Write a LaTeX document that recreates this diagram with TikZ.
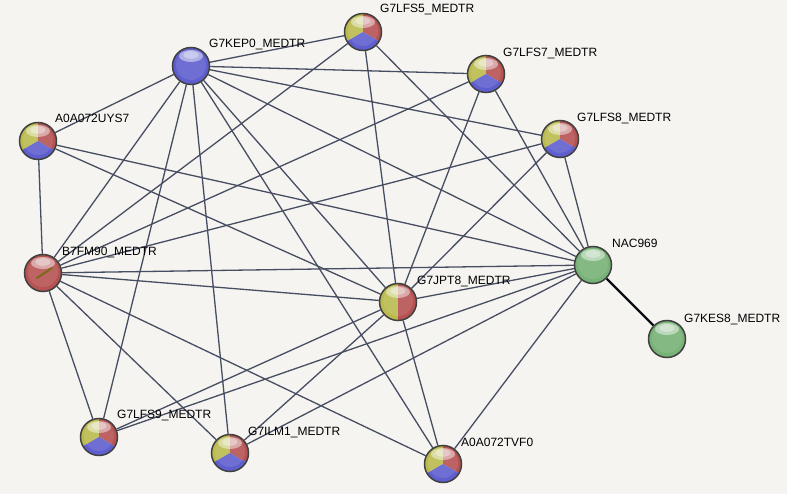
\documentclass[tikz,border=0pt]{standalone}
\usepackage{fontspec}
\setmainfont{Liberation Sans}
\pgfdeclarelayer{background}
\pgfsetlayers{background,main}
\definecolor{bgcol}{HTML}{F5F4F0}
\definecolor{edgecol}{HTML}{474D62}
\definecolor{ylw}{HTML}{D4D45A}
\definecolor{rd}{HTML}{D05E5E}
\definecolor{blu}{HTML}{6C6CEC}
\definecolor{grn}{HTML}{88CB88}
\definecolor{olv}{HTML}{7A6A1A}
\newcommand\ballgloss{%
  \fill[black,opacity=0.12] (0pt,0pt) circle[radius=19pt];
  \fill[white,opacity=0.10] (0pt,1pt) circle[radius=15pt];
  \fill[white,opacity=0.45] (0pt,10pt) ellipse[x radius=12pt, y radius=6pt];
  \fill[white,opacity=0.35] (0pt,11pt) ellipse[x radius=7.5pt, y radius=3.8pt];
}
\newcommand\trifill{%
  \begin{scope}[shift={(path picture bounding box.center)}]
    \fill[ylw] (0pt,0pt) -- (90:40pt) -- (150:40pt) -- (210:40pt) -- cycle;
    \fill[rd] (0pt,0pt) -- (90:40pt) -- (30:40pt) -- (-30:40pt) -- cycle;
    \fill[blu] (0pt,0pt) -- (210:40pt) -- (270:40pt) -- (330:40pt) -- cycle;
    \ballgloss
  \end{scope}}
\newcommand\halffill{%
  \begin{scope}[shift={(path picture bounding box.center)}]
    \fill[ylw] (0pt,-40pt) rectangle (-40pt,40pt);
    \fill[rd] (0pt,-40pt) rectangle (40pt,40pt);
    \ballgloss
  \end{scope}}
\newcommand\onefill[1]{%
  \begin{scope}[shift={(path picture bounding box.center)}]
    \fill[#1] (-40pt,-40pt) rectangle (40pt,40pt);
    \ballgloss
  \end{scope}}
\tikzset{
  ball/.style={circle, minimum size=37pt, inner sep=0pt, draw=black!75, line width=1.5pt},
  triball/.style={ball, path picture={\trifill}},
  halfball/.style={ball, path picture={\halffill}},
  blueball/.style={ball, path picture={\onefill{blu}}},
  redball/.style={ball, path picture={\onefill{rd}}},
  greenball/.style={ball, path picture={\onefill{grn}}},
  lbl/.style={anchor=base west, inner sep=0pt, font=\fontsize{12}{14}\selectfont, text=black},
  edge/.style={draw=edgecol, line width=1.3pt},
  strong/.style={draw=black!80!edgecol, line width=2.4pt},
}
\begin{document}
\begin{tikzpicture}[x=1pt,y=-1pt]
\begin{pgfonlayer}{background}
\fill[bgcol] (0,0) rectangle (787,494);
\end{pgfonlayer}
\useasboundingbox (0,0) rectangle (787,494);
% nodes
\node[blueball] (KEP0) at (191,66) {};
\node[triball] (LFS5) at (363,32) {};
\node[triball] (LFS7) at (486,74) {};
\node[triball] (LFS8) at (560,139) {};
\node[triball] (UYS7) at (38,141) {};
\node[redball] (B7FM) at (43,273) {};
\node[halfball] (JPT8) at (398,302) {};
\node[greenball] (NAC) at (593,265) {};
\node[greenball] (KES8) at (667,339) {};
\node[triball] (LFS9) at (99,437) {};
\node[triball] (ILM1) at (230,453) {};
\node[triball] (TVF0) at (443,464) {};
\draw[olv, line width=2pt, line cap=round] (B7FM) ++(-6,5) -- ++(15,-10);
% labels
\node[lbl] (lKEP0) at (209,47.3) {G7KEP0\_MEDTR};
\node[lbl] (lLFS5) at (380,12.3) {G7LFS5\_MEDTR};
\node[lbl] (lLFS7) at (503,56.3) {G7LFS7\_MEDTR};
\node[lbl] (lLFS8) at (577,121.3) {G7LFS8\_MEDTR};
\node[lbl] (lUYS7) at (55,122.3) {A0A072UYS7};
\node[lbl] (lB7FM) at (62,255.3) {B7FM90\_MEDTR};
\node[lbl] (lJPT8) at (417,284.3) {G7JPT8\_MEDTR};
\node[lbl] (lNAC) at (612,247.3) {NAC969};
\node[lbl] (lKES8) at (684,322.3) {G7KES8\_MEDTR};
\node[lbl] (lLFS9) at (117,418.3) {G7LFS9\_MEDTR};
\node[lbl] (lILM1) at (248,435.3) {G7ILM1\_MEDTR};
\node[lbl] (lTVF0) at (461,446.3) {A0A072TVF0};
% edges
\begin{pgfonlayer}{background}
\foreach \a/\b in {KEP0/LFS5, KEP0/LFS7, KEP0/LFS8, KEP0/NAC, KEP0/JPT8, KEP0/TVF0,
  KEP0/ILM1, KEP0/LFS9, KEP0/B7FM, KEP0/UYS7,
  UYS7/B7FM, UYS7/JPT8, UYS7/NAC,
  B7FM/LFS5, B7FM/LFS7, B7FM/LFS8, B7FM/NAC, B7FM/JPT8, B7FM/TVF0, B7FM/ILM1, B7FM/LFS9,
  LFS5/JPT8, LFS5/NAC, LFS7/JPT8, LFS7/NAC, LFS8/JPT8, LFS8/NAC,
  JPT8/NAC, JPT8/TVF0, JPT8/ILM1, JPT8/LFS9,
  NAC/LFS9, NAC/ILM1, NAC/TVF0}
  \draw[edge] (\a) -- (\b);
\draw[strong] (NAC) -- (KES8);
\end{pgfonlayer}
\end{tikzpicture}
\end{document}
